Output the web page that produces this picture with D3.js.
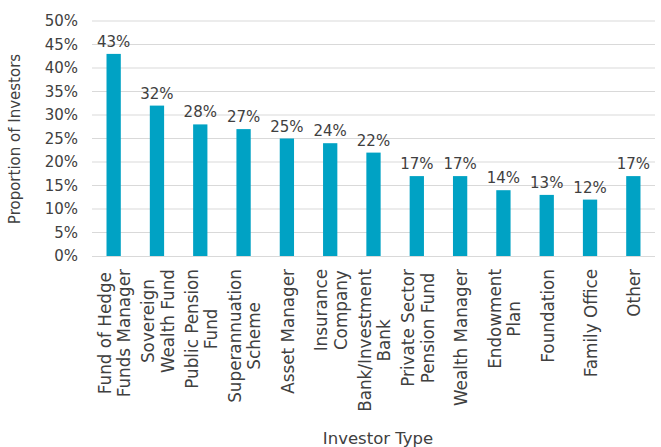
<!DOCTYPE html>
<html><head><meta charset="utf-8">
<script src="https://cdn.jsdelivr.net/npm/d3@7"></script>
<style>body{margin:0;background:#fff}svg{display:block}text{font-family:"DejaVu Sans",sans-serif}</style>
</head><body>
<svg id="c" width="661" height="447"></svg>
<script>
const categories = ["Fund of Hedge Funds Manager","Sovereign Wealth Fund","Public Pension Fund","Superannuation Scheme","Asset Manager","Insurance Company","Bank/Investment Bank","Private Sector Pension Fund","Wealth Manager","Endowment Plan","Foundation","Family Office","Other"];
const labelLines = [["Fund of Hedge","Funds Manager"],["Sovereign","Wealth Fund"],["Public Pension","Fund"],["Superannuation","Scheme"],["Asset Manager"],["Insurance","Company"],["Bank/Investment","Bank"],["Private Sector","Pension Fund"],["Wealth Manager"],["Endowment","Plan"],["Foundation"],["Family Office"],["Other"]];
const values = [43,32,28,27,25,24,22,17,17,14,13,12,17];
const yTicks = [0,5,10,15,20,25,30,35,40,45,50];

(function(){
const svg = d3.select("#c");
const pL = 92, pR = 655, pT = 21, pB = 256;
const x = d3.scaleBand().domain(categories).range([pL, pR]).paddingInner(0.67).paddingOuter(0.335);
const y = d3.scaleLinear().domain([0,50]).range([pB, pT]);
const txt = "#404040";

svg.append("g").selectAll("line").data(yTicks.slice(1)).join("line")
  .attr("x1", pL).attr("x2", pR).attr("y1", d=>y(d)).attr("y2", d=>y(d))
  .attr("stroke", "#d9d9d9").attr("stroke-width", 1);

const ya = svg.append("g").attr("transform", `translate(${pL},0)`)
  .call(d3.axisLeft(y).tickValues(yTicks).tickFormat(d=>d+"%").tickSize(0).tickPadding(14));
ya.select(".domain").remove();
ya.selectAll("text").attr("font-size", 15).attr("fill", txt).attr("font-family","DejaVu Sans");

svg.append("g").selectAll("rect").data(values).join("rect")
  .attr("x", (d,i)=>x(categories[i])).attr("width", x.bandwidth())
  .attr("y", d=>y(d)).attr("height", d=>pB - y(d)).attr("fill", "#00A2C4");

svg.append("g").selectAll("text").data(values).join("text")
  .attr("x", (d,i)=>x(categories[i]) + x.bandwidth()/2).attr("y", d=>y(d)-7)
  .attr("text-anchor","middle").attr("font-size",15).attr("fill",txt).text(d=>d+"%");

svg.append("line").attr("x1", pL).attr("x2", pR).attr("y1", pB+0.5).attr("y2", pB+0.5)
  .attr("stroke","#d9d9d9").attr("stroke-width",1);

const lh = 19.5;
categories.forEach((c,i)=>{
  const cx = x(c) + x.bandwidth()/2 + 1;
  const lines = labelLines[i];
  const g = svg.append("g").attr("transform", `translate(${cx},269) rotate(-90)`);
  const ts = lines.map((l,j)=> g.append("text").attr("font-size",16.8).attr("fill",txt)
     .attr("text-anchor","middle").attr("y", (j - (lines.length-1)/2)*lh + 6).text(l));
  const maxW = d3.max(ts, t=>t.node().getComputedTextLength());
  ts.forEach(t=>t.attr("x", -maxW/2));
});

svg.append("text").attr("transform","translate(20,139) rotate(-90)").attr("text-anchor","middle")
  .attr("font-size",15).attr("fill",txt).text("Proportion of Investors");
svg.append("text").attr("x",378).attr("y",444).attr("text-anchor","middle")
  .attr("font-size",16.5).attr("fill",txt).text("Investor Type");
})();
</script>
</body></html>
